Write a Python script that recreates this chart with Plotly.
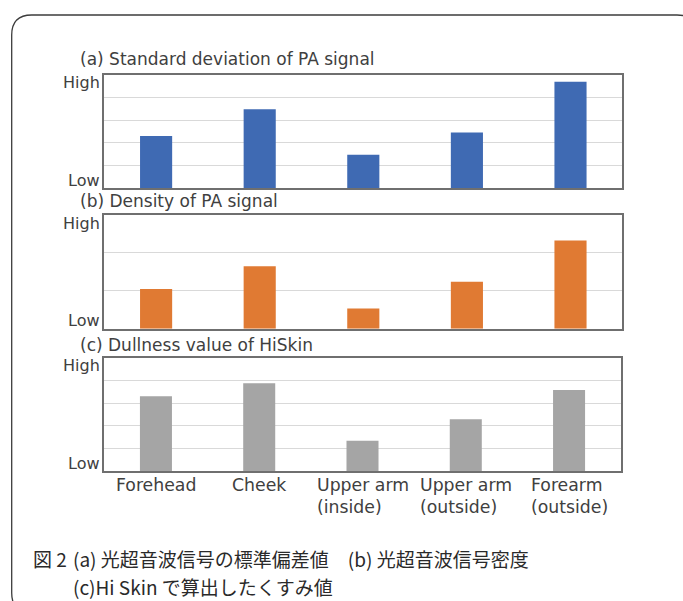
import plotly.graph_objects as go

# ---- data (arbitrary units, Low..High) ----
categories = ["Forehead", "Cheek", "Upper arm (inside)", "Upper arm (outside)", "Forearm (outside)"]
category_labels = ["Forehead", "Cheek", "Upper arm<br>(inside)", "Upper arm<br>(outside)", "Forearm<br>(outside)"]
std_dev_pa = [2.30, 3.48, 1.48, 2.46, 4.69]
density_pa = [1.05, 1.65, 0.53, 1.24, 2.33]
dullness_hiskin = [3.30, 3.87, 1.34, 2.28, 3.57]
panel_titles = ["(a) Standard deviation of PA signal", "(b) Density of PA signal", "(c) Dullness value of HiSkin"]
y_high_low = ["High", "Low"]
caption_fig = "図 2"
caption_line1 = "(a) 光超音波信号の標準偏差値\u3000(b) 光超音波信号密度"
caption_line2 = "(c)Hi Skin で算出したくすみ値"

W, H = 683, 601


def px(x):
    return x / W


def py(y):
    return 1 - y / H


BLUE = "#3f6ab3"
ORANGE = "#e07a33"
GRAY = "#a5a5a5"
TEXT = "#404040"
FRAME = "#6f6f6f"
GRID = "#d9d9d9"
FONT = "DejaVu Sans"

fig = go.Figure()
series = [(std_dev_pa, BLUE, "x", "y"), (density_pa, ORANGE, "x2", "y2"), (dullness_hiskin, GRAY, "x3", "y3")]
for vals, col, xa, ya in series:
    fig.add_trace(go.Bar(x=categories, y=vals, marker=dict(color=col, line=dict(width=0)),
                         width=0.31, xaxis=xa, yaxis=ya, showlegend=False, hoverinfo="x+y"))

x_common = dict(showline=True, mirror=True, linecolor=FRAME, linewidth=1.5, showgrid=False,
                showticklabels=False, ticks="", zeroline=False, type="category",
                categoryorder="array", categoryarray=categories)
y_common = dict(showline=True, mirror=True, linecolor=FRAME, linewidth=1.5, showgrid=True,
                gridcolor=GRID, gridwidth=1, showticklabels=False, ticks="", zeroline=False, dtick=1)

fig.update_layout(
    width=W, height=H, margin=dict(l=0, r=0, t=0, b=0),
    paper_bgcolor="white", plot_bgcolor="white",
    xaxis=dict(domain=[px(104.3), px(622.3)], anchor="y", **x_common),
    yaxis=dict(domain=[py(188.3), py(74.7)], anchor="x", range=[0, 5], **y_common),
    xaxis2=dict(domain=[px(104.3), px(622.3)], anchor="y2", **x_common),
    yaxis2=dict(domain=[py(328.7), py(215)], anchor="x2", range=[0, 3], **y_common),
    xaxis3=dict(domain=[px(104.3), px(620.7)], anchor="y3", **x_common),
    yaxis3=dict(domain=[py(471), py(357.7)], anchor="x3", range=[0, 5], **y_common),
)

annotations = []
title_y = [58.5, 201.5, 344.5]
for t, ty in zip(panel_titles, title_y):
    annotations.append(dict(text=t, xref="paper", yref="paper", x=px(78), y=py(ty),
                            xanchor="left", yanchor="middle", showarrow=False,
                            font=dict(family=FONT, size=17, color=TEXT)))

for xa, ya in [("x", "y"), ("x2", "y2"), ("x3", "y3")]:
    annotations.append(dict(text=y_high_low[0], xref=xa + " domain", yref=ya + " domain", x=0, y=1,
                            xanchor="right", yanchor="middle", xshift=-2, yshift=-8, showarrow=False,
                            font=dict(family=FONT, size=16, color=TEXT)))
    annotations.append(dict(text=y_high_low[1], xref=xa + " domain", yref=ya + " domain", x=0, y=0,
                            xanchor="right", yanchor="middle", xshift=-2, yshift=8, showarrow=False,
                            font=dict(family=FONT, size=16, color=TEXT)))

for cat, lab in zip(categories, category_labels):
    annotations.append(dict(text=lab, xref="x3", yref="paper", x=cat, y=py(472.5),
                            xanchor="center", yanchor="top", align="left", showarrow=False,
                            font=dict(family=FONT, size=17.3, color=TEXT)))

CJK = "Noto Sans CJK JP"
annotations.append(dict(text=caption_fig, xref="paper", yref="paper", x=px(31), y=py(558),
                        xanchor="left", yanchor="middle", showarrow=False,
                        font=dict(family=CJK, size=19, color="#2a2a2a")))
annotations.append(dict(text=caption_line1, xref="paper", yref="paper", x=px(71), y=py(558),
                        xanchor="left", yanchor="middle", showarrow=False,
                        font=dict(family=CJK, size=19, color="#2a2a2a")))
annotations.append(dict(text=caption_line2, xref="paper", yref="paper", x=px(71), y=py(586),
                        xanchor="left", yanchor="middle", showarrow=False,
                        font=dict(family=CJK, size=19, color="#2a2a2a")))

fig.update_layout(annotations=annotations)

# rounded outer border (decorative frame)
L, T, R, B, r = 11.7, 15, 697, 613, 20
path = (f"M {px(L)},{py(B - r)} L {px(L)},{py(T + r)} Q {px(L)},{py(T)} {px(L + r)},{py(T)} "
        f"L {px(R - r)},{py(T)} Q {px(R)},{py(T)} {px(R)},{py(T + r)} "
        f"L {px(R)},{py(B - r)} Q {px(R)},{py(B)} {px(R - r)},{py(B)} "
        f"L {px(L + r)},{py(B)} Q {px(L)},{py(B)} {px(L)},{py(B - r)} Z")
fig.add_shape(type="path", path=path, xref="paper", yref="paper",
              line=dict(color="#3c3c3c", width=1.3), layer="above")

fig.write_html("out.html", config={"displayModeBar": False},
               post_script="document.body.style.margin='0px';document.body.style.padding='0px';"
                           "document.body.style.overflow='hidden';")
